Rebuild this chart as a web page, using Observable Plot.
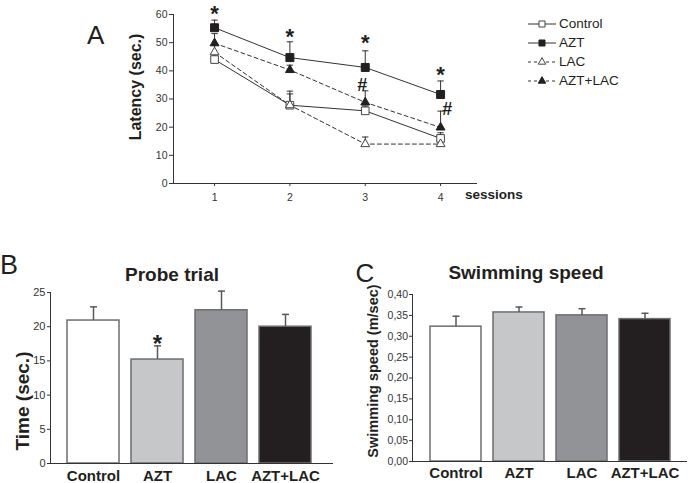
<!DOCTYPE html>
<html>
<head>
<meta charset="utf-8">
<script src="https://cdn.jsdelivr.net/npm/d3@7"></script>
<script src="https://cdn.jsdelivr.net/npm/@observablehq/plot@0.6"></script>
<style>
  body { margin: 0; background: #fff; }
  #root { position: relative; width: 689px; height: 483px; overflow: hidden; background: #fff;
          font-family: Arial, "Liberation Sans", Helvetica, sans-serif; color: #231f20; }
  #root svg.plot { position: absolute; }
  .lbl { position: absolute; white-space: nowrap; line-height: 1; }
</style>
</head>
<body>
<div id="root"></div>
<script>
// ---------------- data ----------------
const sessions = [1, 2, 3, 4];
const groups = ["Control", "AZT", "LAC", "AZT+LAC"];

// Panel A: latency (sec.) per session, mean and upper error bound
const latControl    = [44.0, 27.8, 25.8, 16.0];
const latControlErr = [46.0, 32.8, 27.5, 18.0];
const latAZT        = [55.3, 44.7, 41.2, 31.6];
const latAZTErr     = [58.0, 50.3, 47.1, 36.4];
const latLAC        = [46.6, 27.8, 14.0, 14.0];
const latLACErr     = [49.0, 31.8, 16.5, 16.0];
const latAZTLAC     = [49.8, 40.3, 28.8, 19.9];
const latAZTLACErr  = [53.2, 42.0, 32.9, 25.7];
const yTicksA = [0, 10, 20, 30, 40, 50, 60];

// significance annotations in panel A
const starSessions = [1, 2, 3, 4];
const starY = [62.0, 53.7, 51.5, 40.2];
const hashX = [2.96, 4.09];
const hashY = [35.0, 26.5];

// Panel B: probe trial time (sec.)
const probeTime = [20.9, 15.2, 22.4, 20.0];
const probeErr  = [22.9, 17.2, 25.2, 21.8];
const probeStarY = [null, 18.3, null, null];
const yTicksB = [0, 5, 10, 15, 20, 25];

// Panel C: swimming speed (m/sec)
const speed    = [0.323, 0.357, 0.350, 0.341];
const speedErr = [0.348, 0.370, 0.366, 0.355];
const yTicksC = [0, 0.05, 0.10, 0.15, 0.20, 0.25, 0.30, 0.35, 0.40];

// ---------------- styles ----------------
const FONT = 'Arial, "Liberation Sans", Helvetica, sans-serif';
const INK = "#231f20";
const barFills = ["#ffffff", "#c6c7c9", "#929396", "#231f20"];
const cap = { draw(ctx, size) { const w = Math.sqrt(size / Math.PI); ctx.moveTo(-w, 0); ctx.lineTo(w, 0); } };

const seriesA = [
  { name: "Control", values: latControl, errs: latControlErr, dash: null,  symbol: "square",   fill: "#ffffff", r: 4.3 },
  { name: "AZT",     values: latAZT,     errs: latAZTErr,     dash: null,  symbol: "square",   fill: INK,       r: 4.5 },
  { name: "LAC",     values: latLAC,     errs: latLACErr,     dash: "4,3", symbol: "triangle", fill: "#ffffff", r: 3.3 },
  { name: "AZT+LAC", values: latAZTLAC,  errs: latAZTLACErr,  dash: "4,3", symbol: "triangle", fill: INK,       r: 3.3 }
];

const root = document.getElementById("root");
function place(svg, left, top) {
  svg.classList.add("plot");
  svg.style.left = left + "px";
  svg.style.top = top + "px";
  root.appendChild(svg);
}
function label(text, x, y, size, opts = {}) {
  const d = document.createElement("div");
  d.className = "lbl";
  d.textContent = text;
  d.style.fontSize = size + "px";
  d.style.fontWeight = opts.weight || "bold";
  d.style.left = x + "px";
  d.style.top = y + "px";
  let t = "";
  if (opts.center) t += "translate(-50%,-50%) ";
  if (opts.hcenter) t += "translateX(-50%) ";
  if (opts.vcenter) t += "translateY(-50%) ";
  if (opts.rotate) t += "rotate(-90deg)";
  if (t) d.style.transform = t;
  root.appendChild(d);
  return d;
}

// ---------------- Panel A ----------------
const rowsA = seriesA.flatMap(s => sessions.map((x, i) => ({ group: s.name, session: x, value: s.values[i], err: s.errs[i] })));
const xDomA = [0.455, 4.49];
const marksA = [
  Plot.ruleY([0], { stroke: "#333", strokeWidth: 1 }),
  Plot.ruleX([xDomA[0]], { stroke: "#333", strokeWidth: 1 }),
  Plot.axisY({ ticks: yTicksA, tickSize: 4, tickPadding: 2, label: null, fontSize: 10.5 }),
  Plot.axisX({ ticks: sessions, tickSize: 3, tickPadding: 7.5, label: null, fontSize: 10.5, tickFormat: d => String(d) })
];
for (const s of seriesA) {
  const data = rowsA.filter(d => d.group === s.name);
  marksA.push(Plot.line(data, { x: "session", y: "value", stroke: "#333", strokeWidth: 1, strokeDasharray: s.dash || undefined }));
}
for (const s of seriesA) {
  const data = rowsA.filter(d => d.group === s.name);
  marksA.push(Plot.ruleX(data, { x: "session", y1: "value", y2: "err", stroke: "#333", strokeWidth: 1 }));
  marksA.push(Plot.dot(data, { x: "session", y: "err", symbol: cap, r: 3.2, stroke: "#333", strokeWidth: 1, fill: "none" }));
}
for (const s of seriesA) {
  const data = rowsA.filter(d => d.group === s.name);
  marksA.push(Plot.dot(data, { x: "session", y: "value", symbol: s.symbol, r: s.r, fill: s.fill, stroke: s.fill === INK ? INK : "#444", strokeWidth: 1 }));
}
const starsA = starSessions.map((x, i) => ({ x, y: starY[i] }));
const hashesA = hashX.map((x, i) => ({ x, y: hashY[i] }));
marksA.push(Plot.text(starsA, { x: "x", y: "y", text: () => "*", fontSize: 22, fontWeight: "bold", fill: INK, dy: 5 }));
marksA.push(Plot.text(hashesA, { x: "x", y: "y", text: () => "#", fontSize: 18, fontWeight: "bold", fill: INK }));

const plotA = Plot.plot({
  width: 490, height: 205,
  marginLeft: 173, marginRight: 13, marginTop: 14, marginBottom: 22,
  x: { domain: xDomA },
  y: { domain: [0, 60] },
  style: { fontFamily: FONT, color: "#333", background: "transparent", overflow: "visible" },
  marks: marksA
});
place(plotA, 0, 0);

// ---------------- Panel B ----------------
const rowsB = groups.map((g, i) => ({ group: g, value: probeTime[i], err: probeErr[i], star: probeStarY[i] }));
const plotB = Plot.plot({
  width: 345, height: 233,
  marginLeft: 50, marginRight: 12, marginTop: 42, marginBottom: 20,
  x: { domain: groups, range: [59, 319], paddingInner: 0.1875, paddingOuter: 0.125 },
  y: { domain: [0, 25] },
  color: { domain: groups, range: barFills },
  style: { fontFamily: FONT, color: "#333", background: "transparent", overflow: "visible" },
  marks: [
    Plot.barY(rowsB, { x: "group", y: "value", fill: "group", stroke: "#6d6e71", strokeWidth: 1.5 }),
    Plot.ruleX(rowsB, { x: "group", y1: "value", y2: "err", stroke: "#58595b", strokeWidth: 1.5 }),
    Plot.dot(rowsB, { x: "group", y: "err", symbol: cap, r: 3.5, stroke: "#58595b", strokeWidth: 1.5, fill: "none" }),
    Plot.text(rowsB.filter(d => d.star != null), { x: "group", y: "star", text: () => "*", fontSize: 24, fontWeight: "bold", fill: INK, dy: 5.5 }),
    Plot.ruleY([0], { stroke: "#333", strokeWidth: 1 }),
    Plot.frame({ anchor: "left", stroke: "#333", strokeWidth: 1 }),
    Plot.axisY({ ticks: yTicksB, tickSize: 3, tickPadding: 2, label: null, fontSize: 11 }),
    Plot.axisX({ tickSize: 0, tickPadding: 7, label: null, fontSize: 15, fontWeight: "bold", fill: INK })
  ]
});
place(plotB, 0, 250);

// ---------------- Panel C ----------------
const rowsC = groups.map((g, i) => ({ group: g, value: speed[i], err: speedErr[i] }));
const plotC = Plot.plot({
  width: 339, height: 233,
  marginLeft: 62, marginRight: 2, marginTop: 44, marginBottom: 22,
  x: { domain: groups, range: [66.3, 332.7], paddingInner: 0.195, paddingOuter: 0.2 },
  y: { domain: [0, 0.40] },
  color: { domain: groups, range: barFills },
  style: { fontFamily: FONT, color: "#333", background: "transparent", overflow: "visible" },
  marks: [
    Plot.barY(rowsC, { x: "group", y: "value", fill: "group", stroke: "#6d6e71", strokeWidth: 1.5 }),
    Plot.ruleX(rowsC, { x: "group", y1: "value", y2: "err", stroke: "#58595b", strokeWidth: 1.5 }),
    Plot.dot(rowsC, { x: "group", y: "err", symbol: cap, r: 3.5, stroke: "#58595b", strokeWidth: 1.5, fill: "none" }),
    Plot.ruleY([0], { stroke: "#333", strokeWidth: 1 }),
    Plot.frame({ anchor: "left", stroke: "#333", strokeWidth: 1 }),
    Plot.axisY({ ticks: yTicksC, tickSize: 3, tickPadding: 1.5, label: null, fontSize: 10.5,
                 tickFormat: d => d.toFixed(2).replace(".", ",") }),
    Plot.axisX({ tickSize: 0, tickPadding: 6, label: null, fontSize: 15, fontWeight: "bold", fill: INK })
  ]
});
place(plotC, 350, 250);

// ---------------- text labels ----------------
label("A", 87, 22, 26, { weight: "normal" });
label("B", 0, 251.5, 27, { weight: "normal" });
label("C", 355.5, 259.5, 26, { weight: "normal" });
label("Latency (sec.)", 136, 87, 16, { center: true, rotate: true });
label("sessions", 465, 188, 13.5);
label("Probe trial", 172, 264.5, 19, { hcenter: true });
label("Swimming speed", 526, 262.5, 19, { hcenter: true });
label("Time (sec.)", 21.7, 401, 19, { center: true, rotate: true });
label("Swimming speed (m/sec)", 373, 371, 14.5, { center: true, rotate: true });

// ---------------- legend (panel A) ----------------
const legendY = [24, 42.7, 62, 81];
seriesA.forEach((s, i) => {
  const sw = document.createElementNS("http://www.w3.org/2000/svg", "svg");
  sw.setAttribute("width", 32); sw.setAttribute("height", 12);
  sw.style.position = "absolute"; sw.style.left = "526px"; sw.style.top = (legendY[i] - 6) + "px";
  const ln = document.createElementNS(sw.namespaceURI, "line");
  ln.setAttribute("x1", 2); ln.setAttribute("x2", 30); ln.setAttribute("y1", 6); ln.setAttribute("y2", 6);
  ln.setAttribute("stroke", "#333"); if (s.dash) ln.setAttribute("stroke-dasharray", "3,3");
  sw.appendChild(ln);
  const sym = document.createElementNS(sw.namespaceURI, "path");
  const size = Math.PI * (s.symbol === "square" ? 3.4 * 3.4 : 2.8 * 2.8);
  sym.setAttribute("d", d3.symbol(s.symbol === "square" ? d3.symbolSquare : d3.symbolTriangle, size)());
  sym.setAttribute("transform", "translate(16,6)");
  sym.setAttribute("fill", s.fill); sym.setAttribute("stroke", s.fill === INK ? INK : "#444");
  sw.appendChild(sym);
  root.appendChild(sw);
  label(s.name, 559, legendY[i], 13.5, { weight: "normal", vcenter: true });
});
</script>
</body>
</html>
